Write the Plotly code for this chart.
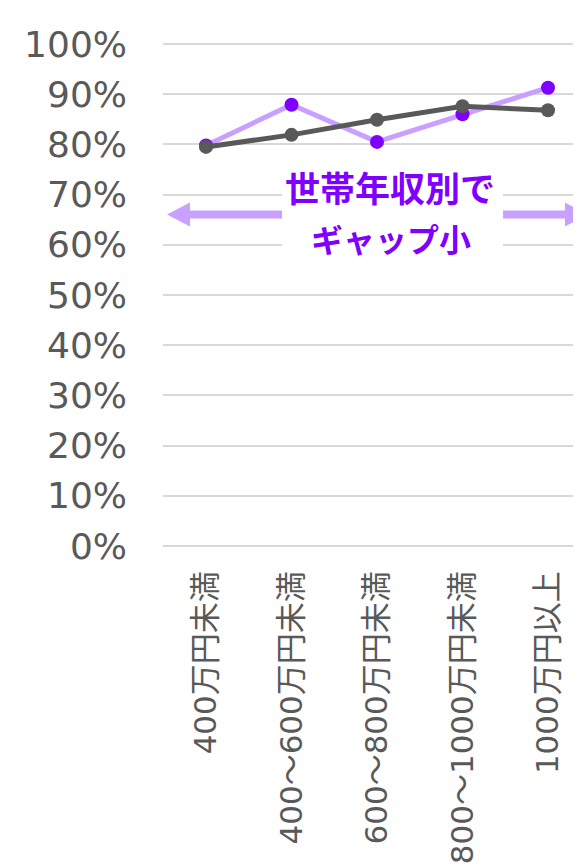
import plotly.graph_objects as go

categories = ["400万円未満", "400～600万円未満", "600～800万円未満", "800～1000万円未満", "1000万円以上"]
series_purple = [0.798, 0.879, 0.805, 0.860, 0.913]
series_gray = [0.795, 0.819, 0.849, 0.876, 0.868]
y_tickvals = [i / 10 for i in range(11)]
y_ticktext = [f"{i * 10}%" for i in range(11)]

OFF = 8  # page body margin
W, H = 573, 858
L, R, T, B = 155, 0, 31, 315
PW, PH = W - L - R, H - T - B

def px(x):
    return (x - OFF - L) / PW

def py(y):
    return (H - B - (y - OFF)) / PH

PURPLE = "#7F00FF"
LIGHT = "#C8A0FF"
GRAY = "#595959"

fig = go.Figure()
fig.add_trace(go.Scatter(
    x=list(range(len(categories))), y=series_purple, mode="lines+markers",
    line=dict(color=LIGHT, width=5), marker=dict(color=PURPLE, size=14),
    showlegend=False, hoverinfo="skip"))
fig.add_trace(go.Scatter(
    x=list(range(len(categories))), y=series_gray, mode="lines+markers",
    line=dict(color=GRAY, width=5), marker=dict(color=GRAY, size=14),
    showlegend=False, hoverinfo="skip"))

shapes = []
shapes.append(dict(type="rect", xref="paper", yref="paper",
                   x0=px(282), x1=px(503), y0=py(268), y1=py(166),
                   fillcolor="white", line=dict(width=0), layer="above"))
shapes.append(dict(type="line", xref="paper", yref="paper",
                   x0=px(188), x1=px(282), y0=py(214.5), y1=py(214.5),
                   line=dict(color=LIGHT, width=8), layer="above"))
shapes.append(dict(type="path", xref="paper", yref="paper",
                   path=f"M {px(167)} {py(214.5)} L {px(190)} {py(202.5)} L {px(190)} {py(226.5)} Z",
                   fillcolor=LIGHT, line=dict(width=0), layer="above"))
shapes.append(dict(type="line", xref="paper", yref="paper",
                   x0=px(503), x1=px(567), y0=py(214.5), y1=py(214.5),
                   line=dict(color=LIGHT, width=8), layer="above"))
shapes.append(dict(type="path", xref="paper", yref="paper",
                   path=f"M {px(588)} {py(214.5)} L {px(565)} {py(202.5)} L {px(565)} {py(226.5)} Z",
                   fillcolor=LIGHT, line=dict(width=0), layer="above"))

annotations = [
    dict(text="<b>世帯年収別で</b>", xref="paper", yref="paper", x=px(390), y=py(186),
         xanchor="center", yanchor="middle", showarrow=False,
         font=dict(family="Noto Sans CJK JP", size=35, color=PURPLE)),
    dict(text="<b>ギャップ小</b>", xref="paper", yref="paper", x=px(391), y=py(238),
         xanchor="center", yanchor="middle", showarrow=False,
         font=dict(family="Noto Sans CJK JP", size=32, color=PURPLE)),
]

fig.update_layout(
    width=W, height=H,
    margin=dict(l=L, r=R, t=T, b=B, pad=0),
    paper_bgcolor="white", plot_bgcolor="white",
    shapes=shapes, annotations=annotations,
    font=dict(family="DejaVu Sans, Noto Sans CJK JP", color=GRAY),
)
fig.update_xaxes(
    range=[-0.503, 4.386], tickvals=list(range(len(categories))), ticktext=categories,
    tickangle=-90, tickfont=dict(size=31, color=GRAY, family="DejaVu Sans, Noto Sans CJK JP"),
    showgrid=False, zeroline=False, showline=False, ticks="", automargin=False,
    ticklabelstandoff=13,
)
fig.update_yaxes(
    range=[-0.01, 1.01], tickvals=y_tickvals, ticktext=y_ticktext,
    tickfont=dict(size=36, color=GRAY, family="DejaVu Sans"),
    showgrid=True, gridcolor="#D9D9D9", gridwidth=1.5, zeroline=False, showline=False,
    ticks="", automargin=False, ticklabelstandoff=35,
)

fig.write_html("out.html")
